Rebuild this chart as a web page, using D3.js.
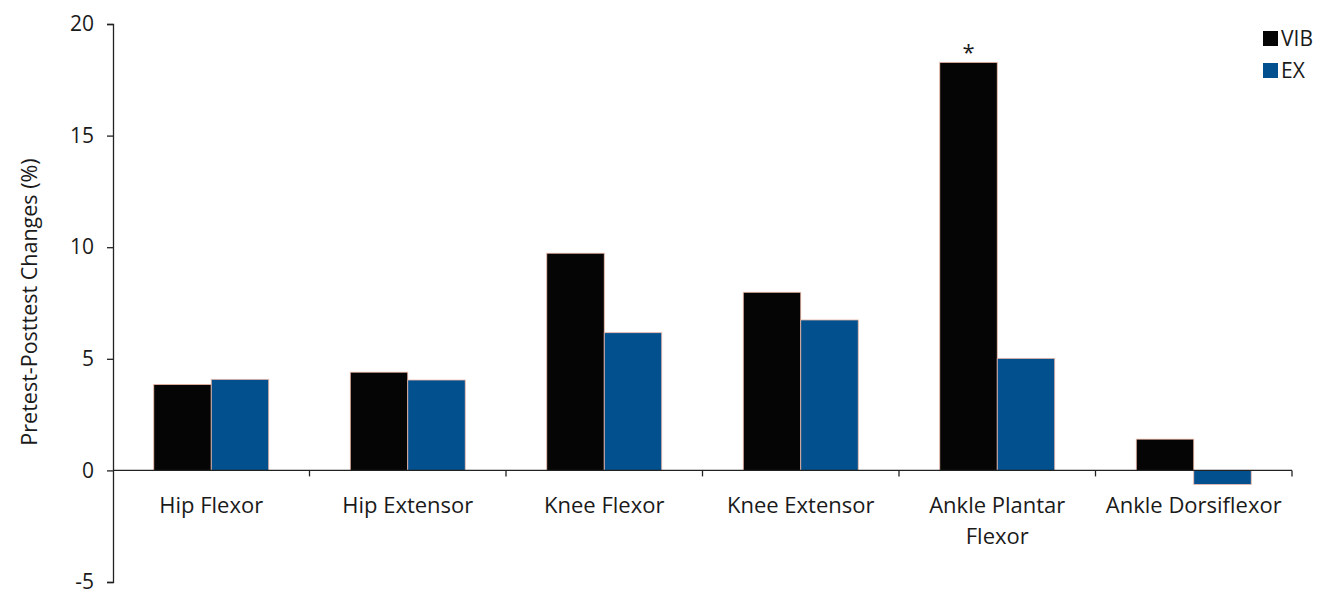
<!DOCTYPE html>
<meta charset="utf-8">
<script src="https://d3js.org/d3.v7.min.js"></script>

<style>
  body { margin: 0; background: #fff; }
  text { font-family: 'Open Sans', sans-serif; fill: #1a1a1a; }
  .axis line, .axis path { stroke: #222; stroke-width: 1.3; }
  .vib { fill: #050505; }
  .ex { fill: #03508f; }
  .bar { stroke: #f0b8a8; stroke-width: 0.8; }
</style>

<svg id="chart"></svg>

<script>
const WIDTH  = 1319;
const HEIGHT = 594;
const MARGIN = { top: 24, right: 27, bottom: 10, left: 113 };

// data
const muscles   = ['Hip Flexor', 'Hip Extensor', 'Knee Flexor', 'Knee Extensor', 'Ankle Plantar Flexor', 'Ankle Dorsiflexor'];
const groups    = ['VIB', 'EX'];
const vibValues = [3.85, 4.4, 9.73, 7.98, 18.28, 1.4];
const exValues  = [4.08, 4.05, 6.17, 6.74, 5.02, -0.63];
const yTicks    = [-5, 0, 5, 10, 15, 20];
const starred   = ['Ankle Plantar Flexor'];

const rows = muscles.map((m, i) => ({ muscle: m, VIB: vibValues[i], EX: exValues[i] }));

const svg = d3.select('#chart')
  .attr('width', WIDTH)
  .attr('height', HEIGHT);

const y = d3.scaleLinear()
  .domain([-5, 20])
  .range([582, MARGIN.top]);

const x = d3.scaleBand()
  .domain(muscles)
  .range([MARGIN.left, WIDTH - MARGIN.right])
  .paddingInner(0.415)
  .paddingOuter(0.2075);

const sub = d3.scaleBand()
  .domain(groups)
  .range([0, x.bandwidth()]);

// bars
const g = svg.append('g');
rows.forEach(r => {
  groups.forEach(k => {
    g.append('rect')
      .attr('class', 'bar ' + k.toLowerCase())
      .attr('x', x(r.muscle) + sub(k))
      .attr('width', sub.bandwidth())
      .attr('y', y(Math.max(0, r[k])))
      .attr('height', Math.abs(y(r[k]) - y(0)));
  });
});

// y axis
svg.append('g')
  .attr('class', 'axis')
  .attr('transform', 'translate(' + MARGIN.left + ',0)')
  .call(d3.axisLeft(y).tickValues(yTicks).tickSize(6).tickPadding(13).tickFormat(d => String(d)))
  .call(a => a.selectAll('text').style('font-size', '21px').attr('fill', '#1a1a1a'));

// x axis at zero, ticks between categories
const step = x.step();
const bounds = d3.range(muscles.length + 1).map(i => MARGIN.left + i * step);
const xa = svg.append('g').attr('class', 'axis');
xa.append('line')
  .attr('x1', MARGIN.left).attr('x2', bounds[bounds.length - 1])
  .attr('y1', y(0)).attr('y2', y(0));
xa.selectAll('.tk').data(bounds.slice(1))
  .enter().append('line')
  .attr('x1', d => d).attr('x2', d => d)
  .attr('y1', y(0)).attr('y2', y(0) + 6);

// category labels
const lbl = svg.selectAll('.cat').data(muscles)
  .enter().append('text')
  .attr('class', 'cat')
  .attr('text-anchor', 'middle')
  .style('font-size', '22px')
  .attr('x', d => x(d) + x.bandwidth() / 2)
  .attr('y', 513);
lbl.each(function(d) {
  const words = d === 'Ankle Plantar Flexor' ? ['Ankle Plantar', 'Flexor'] : [d];
  const t = d3.select(this);
  words.forEach((w, i) => {
    t.append('tspan')
      .attr('x', x(d) + x.bandwidth() / 2)
      .attr('dy', i ? 31 : 0)
      .text(w);
  });
});

// significance mark
svg.selectAll('.star').data(starred)
  .enter().append('text')
  .attr('text-anchor', 'middle')
  .style('font-size', '22px')
  .attr('x', d => x(d) + sub('VIB') + sub.bandwidth() / 2)
  .attr('y', d => y(rows.find(r => r.muscle === d).VIB) - 2)
  .text('*');

// y label
svg.append('text')
  .attr('transform', 'rotate(-90)')
  .attr('text-anchor', 'middle')
  .attr('x', -302)
  .attr('y', 37)
  .style('font-size', '21.5px')
  .text('Pretest-Posttest Changes (%)');

// legend
const leg = svg.append('g').attr('transform', 'translate(1263,31)');
groups.forEach((k, i) => {
  leg.append('rect')
    .attr('class', k.toLowerCase())
    .attr('x', 0).attr('y', i * 32)
    .attr('width', 15).attr('height', 15);
  leg.append('text')
    .attr('x', 18).attr('y', i * 32 + 15)
    .style('font-size', '21px')
    .text(k);
});
</script>
